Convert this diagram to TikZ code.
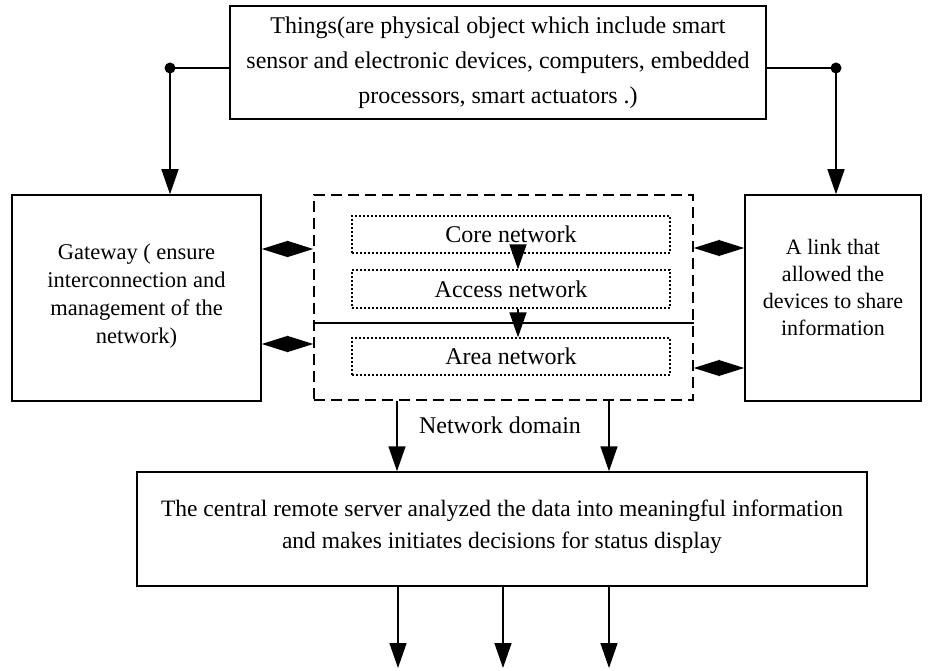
\documentclass[tikz,border=0pt]{standalone}
\usepackage{fontspec}
\setmainfont{Liberation Serif}
\usetikzlibrary{arrows.meta}
\begin{document}
\begin{tikzpicture}[x=1pt,y=-1pt,
  txt/.style={font=\fontsize{22.5}{28}\selectfont, align=center},
  box/.style={draw, line width=1.5pt, inner sep=0pt, txt},
  dashbox/.style={draw, line width=1.5pt, inner sep=0pt, dash pattern=on 11pt off 6pt},
  dotbox/.style={draw, line width=1.3pt, inner sep=0pt, dash pattern=on 2pt off 2pt, font=\fontsize{24}{28}\selectfont},
  conn/.style={line width=1.5pt},
  arr/.style={line width=1.5pt, -{Triangle[length=25pt,width=17pt]}},
  biarr/.style={line width=1.5pt, {Triangle[length=26pt,width=16pt]}-{Triangle[length=26pt,width=16pt]}}
]
\fill[white] (0,0) rectangle (932,671);
\useasboundingbox (0,0) rectangle (932,671);

% boxes
\node[box, minimum width=536pt, minimum height=113pt, font=\fontsize{24}{35}\selectfont] (top) at (498,62.5)
  {Things(are physical object which include smart\\sensor and electronic devices, computers, embedded\\processors, smart actuators .)};
\node[box, minimum width=249pt, minimum height=206pt] (gw) at (136.5,298) {};
\node[txt] at (136.5,296) {Gateway ( ensure\\interconnection and\\management of the\\network)};
\node[box, minimum width=176pt, minimum height=206pt] (rb) at (833,298) {};
\node[txt, font=\fontsize{22}{27}\selectfont] at (833,287) {A link that\\allowed the\\devices to share\\information};
\node[dashbox, minimum width=379pt, minimum height=205pt] (dash) at (503.5,297.5) {};
\node[dotbox, minimum width=318pt, minimum height=37pt] (core) at (511,234.5) {Core network};
\node[dotbox, minimum width=318pt, minimum height=38pt] (acc) at (511,289) {Access network};
\node[dotbox, minimum width=318pt, minimum height=37pt] (area) at (511,356.5) {Area network};
\node[box, minimum width=730pt, minimum height=114pt] (srv) at (502,529) {};
\node[txt, font=\fontsize{23.5}{32}\selectfont] at (502,526.5) {The central remote server analyzed the data into meaningful information\\and makes initiates decisions for status display};

% helper coordinates
\coordinate (dl) at (170,68);
\coordinate (dr) at (836,68);
\coordinate (hl) at (0,323);
\coordinate (b1) at (398,668);
\coordinate (b2) at (503,668);
\coordinate (b3) at (609,668);

% top connectors
\draw[conn] (top.west |- dl) -- (dl);
\draw[conn] (top.east |- dr) -- (dr);
\fill (dl) circle (5.5pt);
\fill (dr) circle (5.5pt);
\draw[arr] (dl) -- (gw.north -| dl);
\draw[arr] (dr) -- (rb.north -| dr);

% inner network
\draw[arr] ([xshift=7pt]core.south) -- ([xshift=7pt]acc.north);
\draw[conn] (dash.west |- hl) -- (dash.east |- hl);
\draw[arr] ([xshift=7pt]acc.south) -- ([xshift=7pt]area.north);

% bidirectional
\draw[biarr] ([yshift=49pt]gw.east) -- ([yshift=48.5pt]dash.west);
\draw[biarr] ([yshift=-46pt]gw.east) -- ([yshift=-46.5pt]dash.west);
\draw[biarr] ([yshift=49.5pt]dash.east) -- ([yshift=50pt]rb.west);
\draw[biarr] ([yshift=-70.5pt]dash.east) -- ([yshift=-70pt]rb.west);

% network domain
\draw[arr] ([xshift=-106.5pt]dash.south) -- ([xshift=-105pt]srv.north);
\draw[arr] ([xshift=105.5pt]dash.south) -- ([xshift=107pt]srv.north);
\node[font=\fontsize{24}{28}\selectfont, fill=white, inner sep=2pt] (nd) at (500,425) {Network domain};

% outputs
\draw[arr] (srv.south -| b1) -- (b1);
\draw[arr] (srv.south -| b2) -- (b2);
\draw[arr] (srv.south -| b3) -- (b3);
\end{tikzpicture}
\end{document}
